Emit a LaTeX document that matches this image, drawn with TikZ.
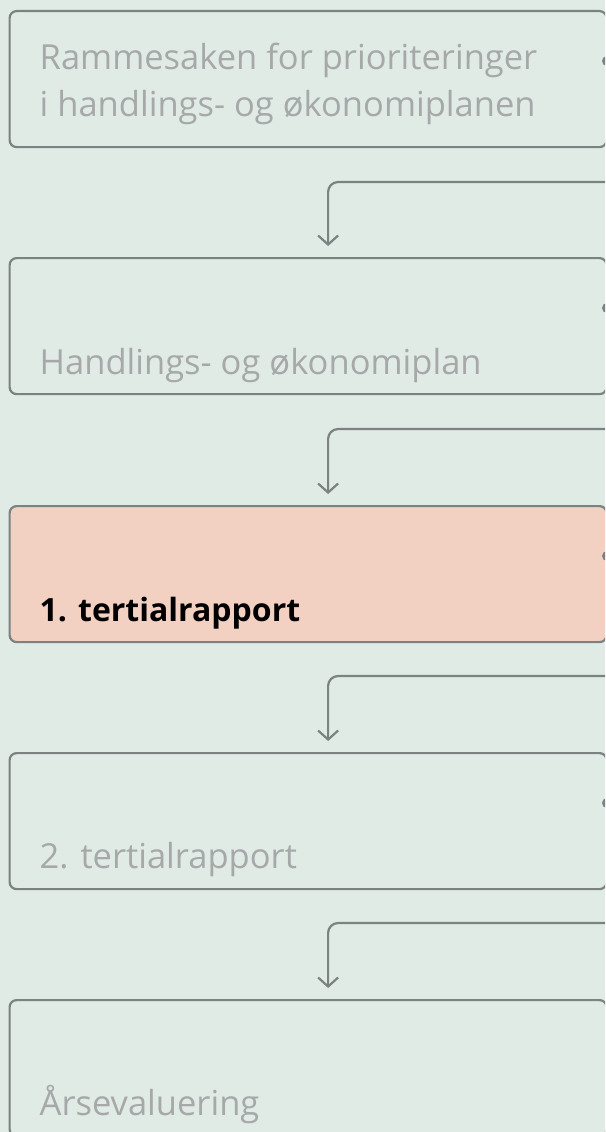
\documentclass[tikz,border=0pt]{standalone}
\usepackage{fontspec}
\setmainfont{Open Sans}
\usetikzlibrary{arrows.meta}
\definecolor{bgmint}{RGB}{224,235,230}
\definecolor{peach}{RGB}{242,209,194}
\definecolor{edgegray}{RGB}{124,129,130}
\definecolor{txtgray}{RGB}{166,168,170}
\begin{document}
\begin{tikzpicture}[x=1pt,y=-1pt,
  stage/.style={draw=edgegray,line width=2.2pt,rounded corners=7pt,fill=bgmint,
    minimum width=597pt,minimum height=136pt,anchor=north west,inner sep=0pt},
  current/.style={stage,fill=peach},
  lbl/.style={anchor=base west,inner sep=0pt,text=txtgray,font=\fontsize{34.5}{46}\selectfont},
  conn/.style={draw=edgegray,line width=2.2pt,rounded corners=10pt,
    -{Straight Barb[length=9pt,width=20pt]}}]
\useasboundingbox (0,0) rectangle (605,1132);
\clip (0,0) rectangle (605,1132);
\fill[bgmint] (0,0) rectangle (605,1132);
% stages
\node[stage] (b1) at (8.5,10) {};
\node[stage] (b2) at (8.5,257) {};
\node[current] (b3) at (8.5,505) {};
\node[stage] (b4) at (8.5,752) {};
\node[stage] (b5) at (8.5,999) {};
% dots at the right edge
\fill[edgegray] (607,61) circle[radius=5pt];\fill[edgegray] (607,308) circle[radius=5pt];
\fill[edgegray] (607,556) circle[radius=5pt];\fill[edgegray] (607,803) circle[radius=5pt];
% labels
\node[lbl] (t1a) at ([xshift=31pt,yshift=-60pt]b1.north west) {Rammesaken for prioriteringer};
\node[lbl] (t1b) at ([xshift=31pt,yshift=-106pt]b1.north west) {i handlings- og økonomiplanen};
\node[lbl] (t2) at ([xshift=31pt,yshift=-117pt]b2.north west) {Handlings- og økonomiplan};
\node[lbl,text=black,font=\fontsize{32}{44}\selectfont\bfseries] (t3) at ([xshift=31pt,yshift=-116pt]b3.north west) {1. tertialrapport};
\node[lbl] (t4) at ([xshift=31pt,yshift=-116pt]b4.north west) {2. tertialrapport};
\node[lbl] (t5) at ([xshift=31pt,yshift=-116pt]b5.north west) {Årsevaluering};
% connectors
\coordinate (e1) at (605,182);\coordinate (e2) at (605,429);
\coordinate (e3) at (605,676);\coordinate (e4) at (605,923);
\draw[conn] (e1) -| ([xshift=20pt,yshift=11pt]b2.north);
\draw[conn] (e2) -| ([xshift=20pt,yshift=11pt]b3.north);
\draw[conn] (e3) -| ([xshift=20pt,yshift=11pt]b4.north);
\draw[conn] (e4) -| ([xshift=20pt,yshift=11pt]b5.north);
\end{tikzpicture}
\end{document}
